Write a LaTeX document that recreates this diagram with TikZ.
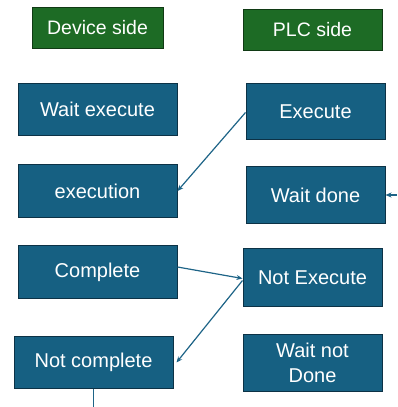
\documentclass[tikz,border=0pt]{standalone}
\usepackage{fontspec}
\setmainfont{Liberation Sans}
\usetikzlibrary{calc,arrows.meta}
\definecolor{gfill}{RGB}{29,107,37}
\definecolor{gdraw}{RGB}{16,58,20}
\definecolor{bfill}{RGB}{22,96,130}
\definecolor{bdraw}{RGB}{12,50,70}
\definecolor{arr}{RGB}{30,100,135}
\begin{document}
\begin{tikzpicture}[x=1pt,y=-1pt,
  gbox/.style={draw=gdraw,fill=gfill,line width=1pt,text=white,inner sep=0pt,align=center,font=\fontsize{19.5}{23}\selectfont},
  bbox/.style={draw=bdraw,fill=bfill,line width=1pt,text=white,inner sep=0pt,align=center,font=\fontsize{20}{25}\selectfont},
  conn/.style={draw=arr,line width=1.2pt,-{Stealth[length=6pt,width=5pt]}}]
\useasboundingbox (0,0) rectangle (397,407);
\node[gbox,minimum width=131pt,minimum height=41pt] (ds) at (97.5,27.5) {Device side};
\node[gbox,minimum width=139pt,minimum height=41pt] (ps) at (312.5,29.5) {PLC side};
\node[bbox,minimum width=159pt,minimum height=52pt] (we) at (97.5,109.5) {Wait execute};
\node[bbox,minimum width=139pt,minimum height=56pt] (ex) at (315.5,111.5) {Execute};
\node[bbox,minimum width=159pt,minimum height=53pt] (exn) at (97.5,191) {execution};
\node[bbox,minimum width=139pt,minimum height=57pt] (wd) at (315.5,195) {Wait done};
\node[bbox,minimum width=159pt,minimum height=53pt] (cmp) at (97.5,272) {Complete};
\node[bbox,minimum width=139pt,minimum height=58pt] (ne) at (312.5,277.5) {Not Execute};
\node[bbox,minimum width=159pt,minimum height=52pt] (nc) at (93.5,362.5) {Not complete};
\node[bbox,minimum width=139pt,minimum height=57pt] (wnd) at (312.5,363) {Wait not\\Done};
\coordinate (rin) at (397,195);
\coordinate (bout) at (93.5,407);
\draw[conn] ($(ex.west)+(0,1)$) -- (exn.east);
\draw[conn] (rin) -- (wd.east);
\draw[conn] ($(cmp.east)+(0,-5)$) -- ($(ne.west)+(0,1)$);
\draw[conn] ($(ne.west)+(0,3)$) -- ($(nc.east)+(3,0)$);
\draw[draw=arr,line width=1.2pt] (nc.south) -- (bout);
\end{tikzpicture}
\end{document}
